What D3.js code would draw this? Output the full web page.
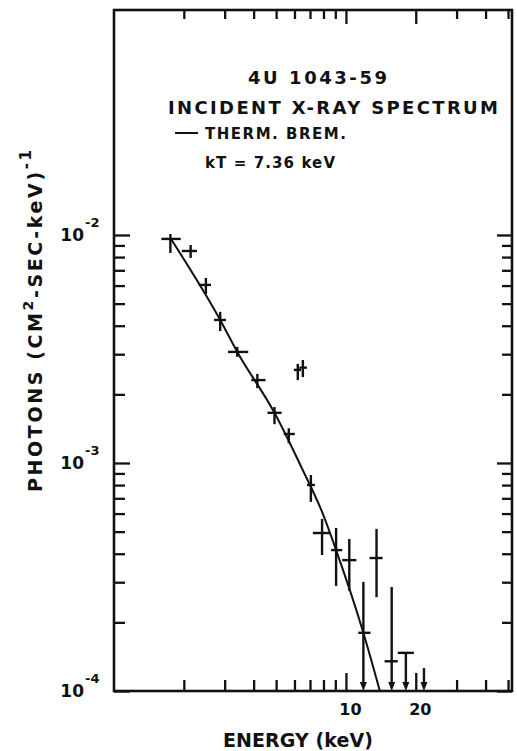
<!DOCTYPE html>
<html lang="en">
<head>
<meta charset="utf-8">
<title>4U 1043-59 Incident X-ray Spectrum</title>
<script src="https://cdnjs.cloudflare.com/ajax/libs/d3/7.8.5/d3.min.js"></script>
<style>
    body { margin: 0; background: #fff; }
    svg { display: block; background: #fff; }
    text { font-family: "DejaVu Sans", "Liberation Sans", Arial, sans-serif; font-weight: bold; fill: #111; }
    .axis path { display: none; }
    .axis line { stroke: #111; stroke-width: 2.3; }
</style>
</head>
<body>
<script>
var energy   = [1.75, 2.14, 2.49, 2.87, 3.40, 4.15, 4.92, 5.67, 6.20, 6.52, 7.06, 7.89, 9.07, 10.34, 11.89, 13.55, 15.75];
var energyLo = [1.60, 1.96, 2.32, 2.70, 3.10, 3.91, 4.59, 5.39, 5.96, 6.30, 6.79, 7.20, 8.63, 9.64, 11.31, 12.64, 14.68];
var energyHi = [1.94, 2.28, 2.62, 3.04, 3.79, 4.50, 5.28, 6.02, 6.40, 6.79, 7.35, 8.54, 9.64, 11.09, 12.76, 14.39, 16.73];
var flux     = [0.00961, 0.00851, 0.00604, 0.00424, 0.00307, 0.00231, 0.00166, 0.00134, 0.00256, 0.00262, 0.000801, 0.000493, 0.000415, 0.000375, 0.000180, 0.000383, 0.000135];
var fluxLo   = [0.00834, 0.00793, 0.00551, 0.00379, 0.00292, 0.00213, 0.00148, 0.00122, 0.00231, 0.00238, 0.000675, 0.000395, 0.000289, 0.000275, null, 0.000258, null];
var fluxHi   = [0.0101, 0.00904, 0.00648, 0.00460, 0.00323, 0.00246, 0.00176, 0.00142, 0.00272, 0.00283, 0.000886, 0.000568, 0.000519, 0.000464, 0.000301, 0.000514, 0.000286];

// upper limits
var limitEnergy   = [18.13, 21.70];
var limitEnergyLo = [16.73, 21.70];
var limitEnergyHi = [19.63, 21.70];
var limitFlux     = [0.000147, 0.000126];

// thermal bremsstrahlung curve, kT = 7.36 keV (traced)
var modelEnergy = [1.75, 2.87, 3.40, 4.92, 6.45, 7.89, 9.07, 11.89, 14.0];
var modelFlux   = [0.00970, 0.00424, 0.00307, 0.00166, 0.000951, 0.000610, 0.000415, 0.000180, 0.0001];

// axis ticks
var xMinorTicks = [2, 3, 4, 5, 6, 7, 8, 9, 30, 40, 50];
var xMajorTicks = [10, 20];
var yMinorTicks = [0.0002, 0.0003, 0.0004, 0.0005, 0.0006, 0.0007, 0.0008, 0.0009,
                   0.002, 0.003, 0.004, 0.005, 0.006, 0.007, 0.008, 0.009];
var yMajorTicks = [0.0001, 0.001, 0.01];

var w = 517;
var h = 751;
var plotLeft = 114, plotRight = 512, plotTop = 10, plotBottom = 691;

var x = d3.scaleLog()
    .domain([1, 52])
    .range([plotLeft, plotRight]);

var y = d3.scaleLog()
    .domain([0.0001, 0.097])
    .range([plotBottom, plotTop]);

var svg = d3.select("body")
    .append("svg")
    .attr("width", w)
    .attr("height", h);

// axes: inward ticks on all four sides
function addAxis(axis, tx, ty){
    svg.append("g")
        .attr("class", "axis")
        .attr("transform", "translate(" + tx + "," + ty + ")")
        .call(axis);
}

addAxis(d3.axisBottom(x).tickValues(xMinorTicks).tickSize(-11).tickSizeOuter(0).tickFormat(""), 0, plotBottom);
addAxis(d3.axisBottom(x).tickValues(xMajorTicks).tickSize(-18).tickSizeOuter(0).tickPadding(13).tickFormat(d3.format("d")), 0, plotBottom);
addAxis(d3.axisTop(x).tickValues(xMinorTicks).tickSize(-9).tickSizeOuter(0).tickFormat(""), 0, plotTop);
addAxis(d3.axisTop(x).tickValues(xMajorTicks).tickSize(-14).tickSizeOuter(0).tickFormat(""), 0, plotTop);
addAxis(d3.axisLeft(y).tickValues(yMinorTicks).tickSize(-11).tickSizeOuter(0).tickFormat(""), plotLeft, 0);
addAxis(d3.axisLeft(y).tickValues(yMajorTicks).tickSize(-16).tickSizeOuter(0).tickFormat(""), plotLeft, 0);
addAxis(d3.axisRight(y).tickValues(yMinorTicks).tickSize(-10).tickSizeOuter(0).tickFormat(""), plotRight, 0);
addAxis(d3.axisRight(y).tickValues(yMajorTicks).tickSize(-15).tickSizeOuter(0).tickFormat(""), plotRight, 0);

svg.selectAll(".axis text")
    .attr("dx", 4)
    .style("font-size", "16px")
    .style("font-family", "'DejaVu Sans', Arial, sans-serif");

// frame
svg.append("rect")
    .attr("x", plotLeft)
    .attr("y", plotTop)
    .attr("width", plotRight - plotLeft)
    .attr("height", plotBottom - plotTop)
    .attr("fill", "none")
    .attr("stroke", "#111")
    .attr("stroke-width", 2.6);

// y tick labels: "10" with the exponent set up to the right
var yLab = svg.append("g")
    .selectAll("g")
    .data(yMajorTicks)
    .join("g")
    .attr("transform", function(d){ return "translate(0," + y(d) + ")"; });

yLab.append("text")
    .attr("x", 84)
    .attr("dy", "0.38em")
    .attr("text-anchor", "end")
    .style("font-size", "17px")
    .text("10");

yLab.append("text")
    .attr("x", 85)
    .attr("y", -8)
    .style("font-size", "13px")
    .text(function(d){ return "-" + (-Math.round(Math.log10(d))); });

// model curve
var line = d3.line()
    .x(function(d, i){ return x(modelEnergy[i]); })
    .y(function(d, i){ return y(modelFlux[i]); })
    .curve(d3.curveMonotoneX);

svg.append("path")
    .datum(modelEnergy)
    .attr("d", line)
    .attr("fill", "none")
    .attr("stroke", "#111")
    .attr("stroke-width", 2);

// data crosses
var pts = svg.append("g")
    .attr("stroke", "#111")
    .attr("stroke-width", 2.4)
    .selectAll("g")
    .data(energy)
    .join("g");

pts.append("line")
    .attr("x1", function(d, i){ return x(energyLo[i]); })
    .attr("x2", function(d, i){ return x(energyHi[i]); })
    .attr("y1", function(d, i){ return y(flux[i]); })
    .attr("y2", function(d, i){ return y(flux[i]); });

pts.append("line")
    .attr("x1", function(d){ return x(d); })
    .attr("x2", function(d){ return x(d); })
    .attr("y1", function(d, i){ return fluxLo[i] === null ? plotBottom - 6 : y(fluxLo[i]); })
    .attr("y2", function(d, i){ return y(fluxHi[i]); });

function arrowHead(cx){
    return "M" + (cx - 3.5) + "," + (plotBottom - 9) + "L" + (cx + 3.5) + "," + (plotBottom - 9) + "L" + cx + "," + plotBottom + "Z";
}

svg.append("g")
    .selectAll("path")
    .data(energy.filter(function(d, i){ return fluxLo[i] === null; }))
    .join("path")
    .attr("d", function(d){ return arrowHead(x(d)); })
    .attr("fill", "#111");

// upper limits
var lim = svg.append("g")
    .attr("stroke", "#111")
    .attr("stroke-width", 2.4)
    .selectAll("g")
    .data(limitEnergy)
    .join("g");

lim.append("line")
    .attr("x1", function(d){ return x(d); })
    .attr("x2", function(d){ return x(d); })
    .attr("y1", function(d, i){ return y(limitFlux[i]); })
    .attr("y2", plotBottom - 6);

lim.append("line")
    .attr("x1", function(d, i){ return x(limitEnergyLo[i]); })
    .attr("x2", function(d, i){ return x(limitEnergyHi[i]); })
    .attr("y1", function(d, i){ return y(limitFlux[i]); })
    .attr("y2", function(d, i){ return y(limitFlux[i]); });

svg.append("g")
    .selectAll("path")
    .data(limitEnergy)
    .join("path")
    .attr("d", function(d){ return arrowHead(x(d)); })
    .attr("fill", "#111");

// titles and legend
svg.append("text")
    .attr("x", 248).attr("y", 84)
    .attr("textLength", 139).attr("lengthAdjust", "spacing")
    .style("font-size", "18px")
    .text("4U 1043-59");

svg.append("text")
    .attr("x", 168).attr("y", 114)
    .attr("textLength", 330).attr("lengthAdjust", "spacing")
    .style("font-size", "18px")
    .text("INCIDENT X-RAY SPECTRUM");

svg.append("line")
    .attr("x1", 175).attr("x2", 198)
    .attr("y1", 133).attr("y2", 133)
    .attr("stroke", "#111").attr("stroke-width", 2);

svg.append("text")
    .attr("x", 205).attr("y", 139)
    .attr("textLength", 141).attr("lengthAdjust", "spacing")
    .style("font-size", "15px")
    .text("THERM. BREM.");

svg.append("text")
    .attr("x", 205).attr("y", 168)
    .attr("textLength", 130).attr("lengthAdjust", "spacing")
    .style("font-size", "15px")
    .text("kT = 7.36 keV");

svg.append("text")
    .attr("x", 223).attr("y", 747)
    .attr("textLength", 150).attr("lengthAdjust", "spacing")
    .style("font-size", "19px")
    .text("ENERGY (keV)");

var yTitle = svg.append("text")
    .attr("transform", "translate(42,492) rotate(-90)")
    .attr("textLength", 342).attr("lengthAdjust", "spacing")
    .style("font-size", "19px");
yTitle.append("tspan").text("PHOTONS (CM");
yTitle.append("tspan").attr("dy", -9).style("font-size", "14px").text("2");
yTitle.append("tspan").attr("dy", 9).text("-SEC-keV)");
yTitle.append("tspan").attr("dy", -11).style("font-size", "15px").text("-1");
</script>
</body>
</html>
